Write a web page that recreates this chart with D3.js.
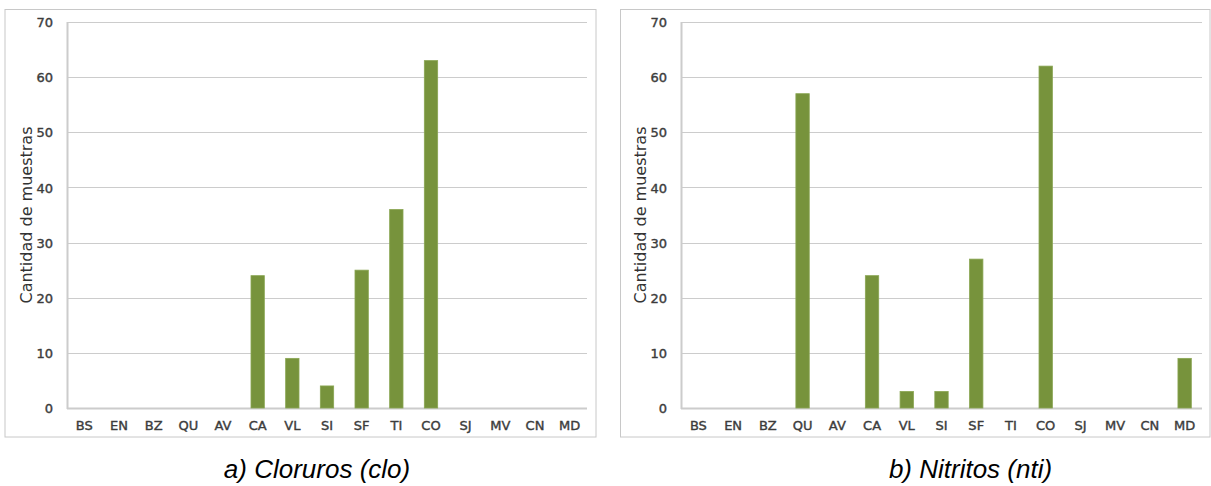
<!DOCTYPE html>
<html>
<head>
<meta charset="utf-8">
<script src="https://cdn.jsdelivr.net/npm/d3@7"></script>
<style>
  html, body { margin: 0; padding: 0; background: #fff; }
  svg { display: block; }
</style>
</head>
<body>
<svg id="chart" width="1211" height="486"></svg>
<script>
// ---- data ----
const categories = ["BS","EN","BZ","QU","AV","CA","VL","SI","SF","TI","CO","SJ","MV","CN","MD"];
const clorurosValues = [0,0,0,0,0,24,9,4,25,36,63,0,0,0,0];
const nitritosValues = [0,0,0,57,0,24,3,3,27,0,62,0,0,0,9];
const yTicks = [0,10,20,30,40,50,60,70];
const yLabel = "Cantidad de muestras";
const captions = ["a) Cloruros (clo)", "b) Nitritos (nti)"];

const panels = [
  { values: clorurosValues, caption: captions[0], box: [5, 9.5, 591, 427.5], plot: [67, 22, 520, 386], captionX: 317 },
  { values: nitritosValues, caption: captions[1], box: [620.5, 9.5, 589.5, 427.5], plot: [681, 22, 521, 386], captionX: 970.5 }
];

const svg = d3.select("#chart");
const barColor = "#77933c";
const gridColor = "#cccccc";

panels.forEach(p => {
  const g = svg.append("g");
  const [bx, by, bw, bh] = p.box;
  g.append("rect").attr("x", bx).attr("y", by).attr("width", bw).attr("height", bh)
    .attr("fill", "#fff").attr("stroke", "#c8c8c8").attr("stroke-width", 1);

  const [px, py, pw, ph] = p.plot;
  const x = d3.scaleBand().domain(categories).range([px, px + pw]).paddingInner(0.615).paddingOuter(0.3075);
  const y = d3.scaleLinear().domain([0, 70]).range([py + ph, py]);

  // gridlines
  g.append("g").selectAll("line").data(yTicks).join("line")
    .attr("x1", px).attr("x2", px + pw)
    .attr("y1", d => Math.round(y(d)) + 0.5).attr("y2", d => Math.round(y(d)) + 0.5)
    .attr("stroke", gridColor).attr("stroke-width", d => d === 0 ? 2 : 1.2);

  // left axis line
  g.append("line").attr("x1", px + 0.5).attr("x2", px + 0.5).attr("y1", py).attr("y2", py + ph + 1)
    .attr("stroke", gridColor).attr("stroke-width", 2);

  // y axis
  const yAxis = d3.axisLeft(y).tickValues(yTicks).tickSize(0).tickPadding(0);
  const ya = g.append("g").attr("transform", `translate(${px - 14},0)`).call(yAxis);
  ya.select(".domain").remove();
  ya.selectAll("text").attr("font-family", "DejaVu Sans").attr("font-size", 13)
    .attr("fill", "#3c3c3c").attr("stroke", "#3c3c3c").attr("stroke-width", 0.4).attr("dy", "0.36em");

  // x axis
  const xAxis = d3.axisBottom(x).tickSize(0).tickPadding(0);
  const xa = g.append("g").attr("transform", `translate(0,${py + ph + 13})`).call(xAxis);
  xa.select(".domain").remove();
  xa.selectAll("text").attr("font-family", "DejaVu Sans").attr("font-size", 13)
    .attr("fill", "#3c3c3c").attr("stroke", "#3c3c3c").attr("stroke-width", 0.4).attr("dy", "0.71em");

  // bars
  g.append("g").selectAll("rect").data(categories.map((c, i) => ({ c, v: p.values[i] })).filter(d => d.v > 0))
    .join("rect")
    .attr("x", d => x(d.c)).attr("width", x.bandwidth())
    .attr("y", d => y(d.v)).attr("height", d => y(0) - y(d.v))
    .attr("fill", barColor).attr("stroke", "#8aa653").attr("stroke-width", 0.8);

  // y label
  g.append("text").attr("transform", `translate(${px - 41},${py + ph / 2}) rotate(-90)`)
    .attr("text-anchor", "middle").attr("dy", "0.35em")
    .attr("font-family", "DejaVu Sans").attr("font-size", 16).attr("fill", "#333")
    .text(yLabel);

  // caption
  g.append("text").attr("x", p.captionX).attr("y", 478)
    .attr("text-anchor", "middle").attr("font-family", "Liberation Sans, Arial").attr("font-style", "italic")
    .attr("font-size", 26).attr("fill", "#000").text(p.caption);
});
</script>
</body>
</html>
